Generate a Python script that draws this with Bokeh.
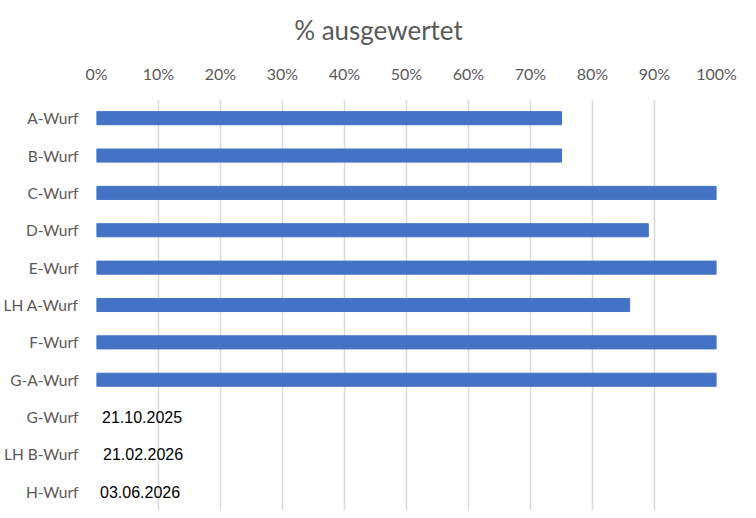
from bokeh.plotting import figure
from bokeh.models import FactorRange, Range1d, NumeralTickFormatter, ColumnDataSource, LabelSet, FixedTicker, Div
from bokeh.layouts import column
from bokeh.core.properties import value
from bokeh.embed import file_html
from bokeh.resources import INLINE

title_text = "% ausgewertet"
categories = ["A-Wurf", "B-Wurf", "C-Wurf", "D-Wurf", "E-Wurf", "LH A-Wurf",
              "F-Wurf", "G-A-Wurf", "G-Wurf", "LH B-Wurf", "H-Wurf"]
bar_cats = ["A-Wurf", "B-Wurf", "C-Wurf", "D-Wurf", "E-Wurf", "LH A-Wurf", "F-Wurf", "G-A-Wurf"]
bar_values = [0.75, 0.75, 1.00, 0.89, 1.00, 0.86, 1.00, 1.00]
date_cats = ["G-Wurf", "LH B-Wurf", "H-Wurf"]
date_labels = ["21.10.2025", "21.02.2026", "03.06.2026"]
x_ticks = [0, 0.1, 0.2, 0.3, 0.4, 0.5, 0.6, 0.7, 0.8, 0.9, 1.0]

GRAY = "#595959"
FONT = "Lato"

title_div = Div(
    text=('<div style="width:747px;text-align:center;line-height:50px;'
          'font-family:Lato;font-size:26px;color:#595959;white-space:nowrap;">'
          + title_text + '</div>'),
    width=740, height=50)

p = figure(width=740, height=452, output_backend="svg", toolbar_location=None,
           y_range=FactorRange(factors=list(reversed(categories)), range_padding=0),
           x_range=Range1d(0, 1.0), x_axis_location="above",
           min_border_left=96, min_border_right=24, min_border_bottom=2, min_border_top=39)

p.outline_line_color = None
p.ygrid.grid_line_color = None
p.xgrid.grid_line_color = "#D9D9D9"
p.xgrid.grid_line_width = 1.5

p.xaxis.ticker = FixedTicker(ticks=x_ticks)
p.xaxis.formatter = NumeralTickFormatter(format="0%")
for ax in (p.xaxis, p.yaxis):
    ax.axis_line_color = None
    ax.major_tick_line_color = None
    ax.minor_tick_line_color = None
    ax.major_label_text_color = GRAY
    ax.major_label_text_font = FONT
    ax.major_label_text_font_size = "16px"
p.yaxis.major_label_text_font_size = "15.5px"
p.xaxis.major_label_standoff = 11
p.yaxis.major_label_standoff = 12

src = ColumnDataSource(dict(y=bar_cats, right=bar_values))
p.hbar(y="y", left=0, right="right", height=0.35, color="#4472C4", source=src)

lsrc = ColumnDataSource(dict(y=date_cats, x=[0, 0, 0], t=date_labels, off=[5.5, 6.5, 3.5]))
labels = LabelSet(x="x", y="y", text="t", source=lsrc, x_offset="off",
                  text_font=value("Liberation Sans"), text_font_size="16px",
                  text_color="black", text_baseline="middle", text_align="left")
p.add_layout(labels)

layout = column(title_div, p, spacing=0)

open("out.html", "w").write(file_html(layout, INLINE))
